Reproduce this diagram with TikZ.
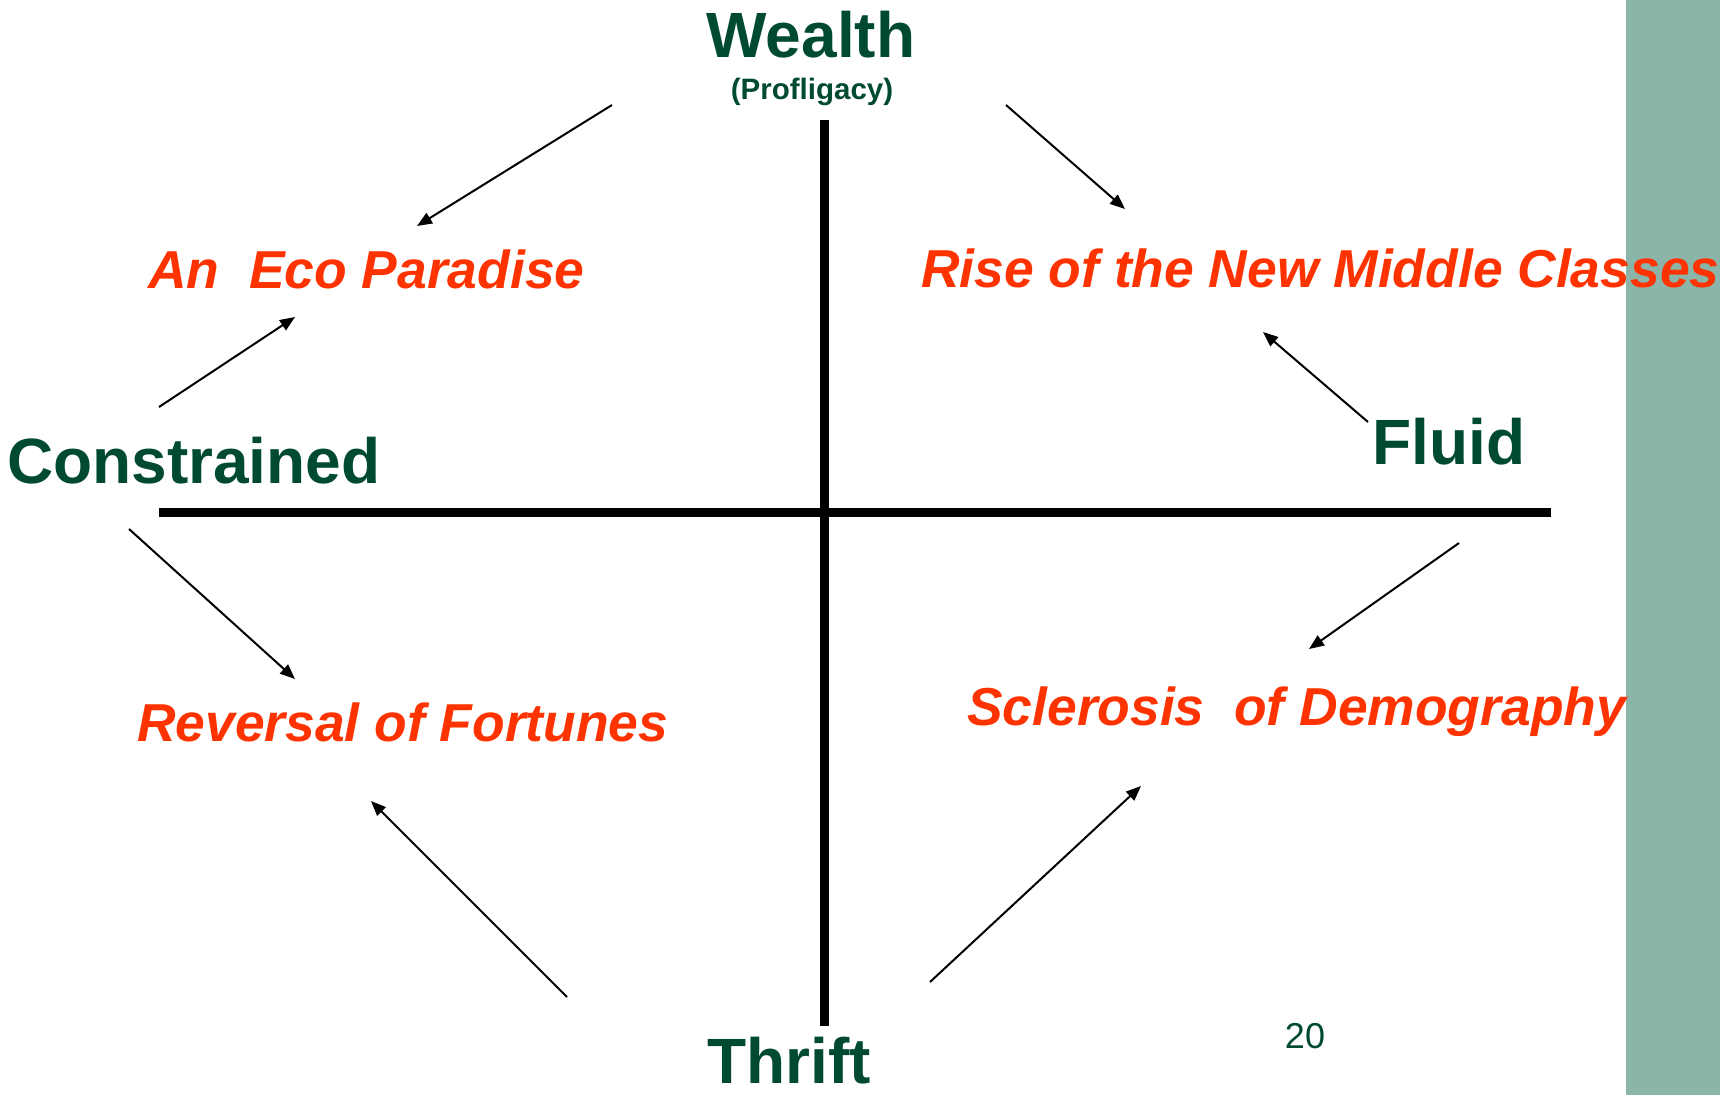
\documentclass[tikz,border=0pt]{standalone}
\usepackage{fontspec}
\setmainfont{Liberation Sans}
\usetikzlibrary{arrows.meta}
\definecolor{dkgreen}{HTML}{004A32}
\definecolor{scred}{HTML}{FF3300}
\definecolor{strip}{HTML}{8BB5A8}
\tikzset{
  axisline/.style={line width=9pt, line cap=butt},
  arr/.style={line width=2pt, -{Triangle[length=15pt,width=12pt]}},
  heading/.style={inner sep=0pt, text=dkgreen, font=\fontsize{64}{70}\selectfont\bfseries},
  scen/.style={inner sep=0pt, text=scred, font=\fontsize{53.4}{60}\selectfont\bfseries\itshape},
}
\begin{document}
\begin{tikzpicture}[x=1pt,y=-1pt]
\useasboundingbox (0,0) rectangle (1720,1095);
\fill[white] (0,0) rectangle (1720,1095);
\fill[strip] (1626,0) rectangle (1720,1095);
% axes
\coordinate (hl) at (159,512);
\coordinate (hr) at (1551,512);
\coordinate (vt) at (824,120);
\coordinate (vb) at (824,1026);
\draw[axisline] (hl) -- (hr);
\draw[axisline] (vt) -- (vb);
% labels
\node[heading, anchor=base] (wealth) at (811,57) {Wealth};
\node[inner sep=0pt, text=dkgreen, font=\fontsize{29.5}{32}\selectfont\bfseries, anchor=base] (prof) at (812,99) {(Profligacy)};
\node[heading, anchor=base west] (constr) at (7,483) {Constrained};
\node[heading, anchor=base west] (fluid) at (1372,464) {Fluid};
\node[heading, anchor=base west] (thrift) at (707,1083) {Thrift};
\node[inner sep=0pt, text=dkgreen, font=\fontsize{36}{40}\selectfont, anchor=base] (pnum) at (1305,1048) {20};
\node[scen, anchor=base west] (eco) at (148,288) {An\ \ Eco Paradise};
\node[scen, anchor=base west] (rise) at (921,287) {Rise of the New Middle Classes};
\node[scen, anchor=base west] (rev) at (137,741) {Reversal of Fortunes};
\node[scen, anchor=base west] (scl) at (967,725) {Sclerosis\ \ of Demography};
% arrow ends
\coordinate (a1s) at (612,105);  \coordinate (a1e) at (417,226);
\coordinate (a2s) at (1006,105); \coordinate (a2e) at (1125,209);
\coordinate (a3s) at (159,407);  \coordinate (a3e) at (295,317);
\coordinate (a4s) at (1368,422); \coordinate (a4e) at (1263,332);
\coordinate (a5s) at (129,529);  \coordinate (a5e) at (295,679);
\coordinate (a6s) at (1459,543); \coordinate (a6e) at (1309,649);
\coordinate (a7s) at (567,997);  \coordinate (a7e) at (371,801);
\coordinate (a8s) at (930,982);  \coordinate (a8e) at (1141,786);
\foreach \i in {1,...,8} \draw[arr] (a\i s) -- (a\i e);
\end{tikzpicture}
\end{document}
